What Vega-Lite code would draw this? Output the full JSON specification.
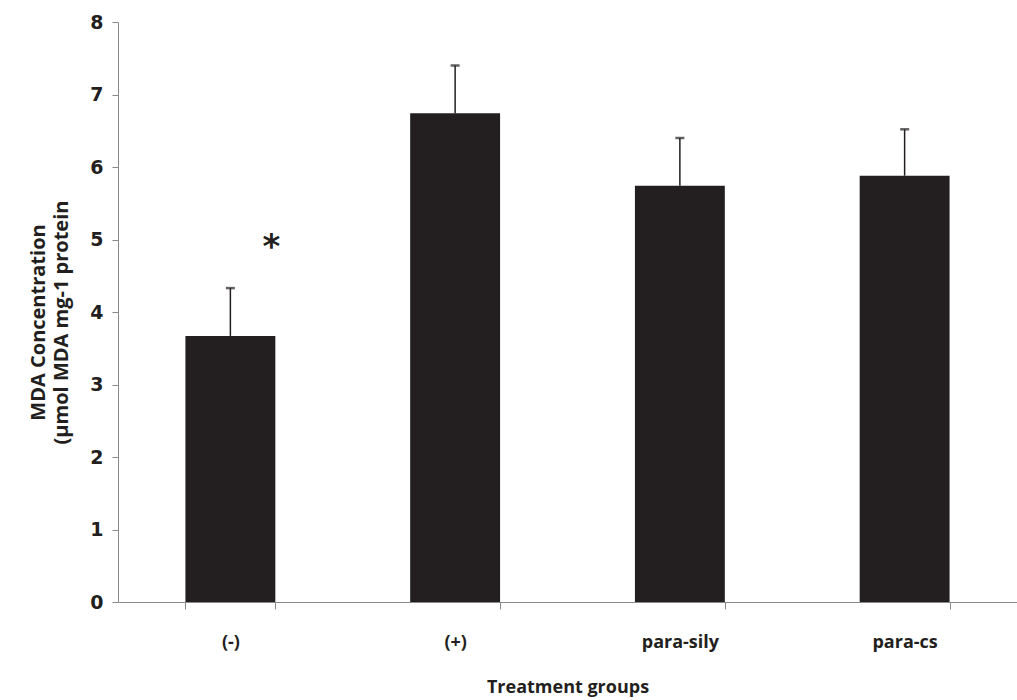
{
  "$schema": "https://vega.github.io/schema/vega-lite/v6.json",
  "autosize": "none",
  "width": 899,
  "height": 580,
  "padding": {"left": 118, "top": 22, "right": 0, "bottom": 98},
  "background": "white",
  "config": {"view": {"stroke": null}},
  "data": {"values": [
    {"group": "(-)", "mda": 3.67, "upper": 4.33, "sig": "*", "sigY": 5.0},
    {"group": "(+)", "mda": 6.74, "upper": 7.40, "sig": "", "sigY": null},
    {"group": "para-sily", "mda": 5.74, "upper": 6.40, "sig": "", "sigY": null},
    {"group": "para-cs", "mda": 5.88, "upper": 6.52, "sig": "", "sigY": null}
  ]},
  "encoding": {
    "x": {"field": "group", "type": "nominal", "sort": null,
      "scale": {"paddingInner": 0.6, "paddingOuter": 0.3},
      "axis": {"title": "Treatment groups", "labelAngle": 0,
        "labelFont": "Open Sans", "labelFontSize": 18, "labelFontWeight": 700, "labelColor": "#231f20",
        "labelPadding": 24,
        "titleFont": "Open Sans", "titleFontSize": 18, "titleFontWeight": 700, "titleColor": "#231f20",
        "titlePadding": 27,
        "domainColor": "#8a8a8a", "tickColor": "#8a8a8a", "tickSize": 7, "tickBand": "extent", "grid": false}}
  },
  "layer": [
    {
      "mark": {"type": "bar", "color": "#231f20"},
      "encoding": {
        "y": {"field": "mda", "type": "quantitative",
          "scale": {"domain": [0, 8], "nice": false},
          "axis": {"values": [0,1,2,3,4,5,6,7,8], "format": "d", "grid": false,
            "title": ["MDA Concentration", "(µmol MDA mg-1 protein"],
            "titleFont": "Open Sans", "titleFontSize": 20, "titleFontWeight": 700, "titleColor": "#231f20",
            "titleX": -70, "titleY": 300, "titleLineHeight": 23,
            "labelFont": "DejaVu Sans", "labelFontSize": 19, "labelFontWeight": "bold", "labelColor": "#231f20",
            "labelPadding": 9,
            "domainColor": "#8a8a8a", "tickColor": "#8a8a8a", "tickSize": 6}}
      }
    },
    {
      "mark": {"type": "rule", "color": "#231f20", "strokeWidth": 1.5},
      "encoding": {"y": {"field": "mda", "type": "quantitative"}, "y2": {"field": "upper"}}
    },
    {
      "mark": {"type": "tick", "color": "#231f20", "size": 9, "thickness": 2.5},
      "encoding": {"y": {"field": "upper", "type": "quantitative"}}
    },
    {
      "mark": {"type": "text", "font": "DejaVu Sans", "fontSize": 34, "fontWeight": "bold", "color": "#231f20", "dx": 41, "dy": 8},
      "encoding": {"y": {"field": "sigY", "type": "quantitative"}, "text": {"field": "sig"}}
    }
  ]
}
